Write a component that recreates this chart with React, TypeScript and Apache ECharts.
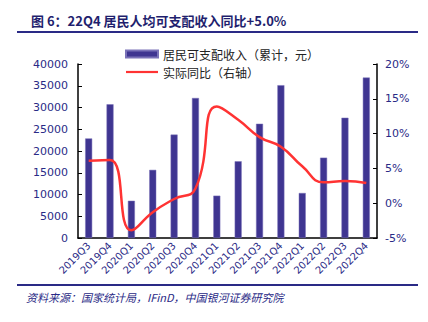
import React, { useEffect, useRef } from "react";
import * as echarts from "echarts";

const categories = ["2019Q3", "2019Q4", "2020Q1", "2020Q2", "2020Q3", "2020Q4", "2021Q1", "2021Q2", "2021Q3", "2021Q4", "2022Q1", "2022Q2", "2022Q3", "2022Q4"];
const incomeCum = [22882, 30733, 8561, 15666, 23781, 32189, 9730, 17642, 26265, 35128, 10345, 18463, 27650, 36883];
const realYoY = [6.1, 6.2, -3.9, -1.3, 0.6, 2.1, 13.9, 12.0, 9.5, 8.1, 5.3, 3.0, 3.2, 2.9];
const leftTicks = [0, 40000, 5000];
const rightTicks = [-5, 20, 5];

const navy = "#2a2a86";
const barColor = "#3f3591";
const lineColor = "#ff3333";

export default function App() {
  const ref = useRef<HTMLDivElement>(null);
  useEffect(() => {
    if (!ref.current) return;
    const chart = echarts.init(ref.current, undefined, { renderer: "svg" });
    chart.setOption({
      animation: false,
      backgroundColor: "#ffffff",
      title: {
        text: "图 6：22Q4 居民人均可支配收入同比+5.0%",
        left: 26,
        top: 9,
        textStyle: { fontFamily: "Noto Sans CJK SC", fontWeight: "bold", fontSize: 13, color: "#1f1f6e" },
      },
      graphic: [
        { type: "line", shape: { x1: 17, y1: 32, x2: 418, y2: 32 }, style: { stroke: navy, lineWidth: 2 } },
        { type: "line", shape: { x1: 17, y1: 285, x2: 418, y2: 285 }, style: { stroke: navy, lineWidth: 2 } },
        {
          type: "text",
          left: 26,
          top: 291,
          style: {
            text: "资料来源：国家统计局，IFinD，中国银河证券研究院",
            font: "italic 11px 'Noto Sans CJK SC'",
            fill: "#2a2a86",
          },
        },
      ],
      legend: {
        orient: "vertical",
        left: 120,
        top: 43,
        itemGap: 6,
        itemWidth: 32,
        itemHeight: 7,
        textStyle: { fontFamily: "Noto Sans CJK SC", fontSize: 12, color: "#222" },
        data: [
          { name: "居民可支配收入（累计，元）", icon: "rect" },
          { name: "实际同比（右轴）", icon: "path://M0,0H32V2.2H0Z", itemStyle: { color: lineColor } },
        ],
      },
      grid: { left: 78, right: 51, top: 64, bottom: 84 },
      xAxis: {
        type: "category",
        data: categories,
        axisLine: { lineStyle: { color: "#000", width: 1.5 } },
        axisTick: { show: false },
        axisLabel: { rotate: 45, color: navy, fontSize: 10, fontFamily: "DejaVu Sans", interval: 0, margin: 6 },
      },
      yAxis: [
        {
          type: "value",
          min: leftTicks[0],
          max: leftTicks[1],
          interval: leftTicks[2],
          splitLine: { show: false },
          axisLine: { show: true, lineStyle: { color: "#000", width: 1.5 } },
          axisTick: { show: true, inside: true, length: 4, lineStyle: { color: "#000" } },
          axisLabel: { color: navy, fontSize: 11, fontFamily: "DejaVu Sans", margin: 10, formatter: (v: number) => String(v) },
        },
        {
          type: "value",
          min: rightTicks[0],
          max: rightTicks[1],
          interval: rightTicks[2],
          splitLine: { show: false },
          axisLine: { show: true, lineStyle: { color: "#000", width: 1.5 } },
          axisTick: { show: true, inside: true, length: 4, lineStyle: { color: "#000" } },
          axisLabel: { color: navy, fontSize: 11, fontFamily: "DejaVu Sans", margin: 8, formatter: "{value}%" },
        },
      ],
      series: [
        {
          name: "居民可支配收入（累计，元）",
          type: "bar",
          data: incomeCum,
          barWidth: 7,
          itemStyle: { color: barColor, borderColor: "#7a72b8", borderWidth: 0.5 },
        },
        {
          name: "实际同比（右轴）",
          type: "line",
          yAxisIndex: 1,
          data: realYoY,
          smooth: 0.5,
          showSymbol: false,
          symbol: "none",
          lineStyle: { color: lineColor, width: 2.5 },
          itemStyle: { color: lineColor },
        },
      ],
    });
    return () => chart.dispose();
  }, []);
  return <div ref={ref} style={{ width: 428, height: 322, margin: -8 }} />;
}
